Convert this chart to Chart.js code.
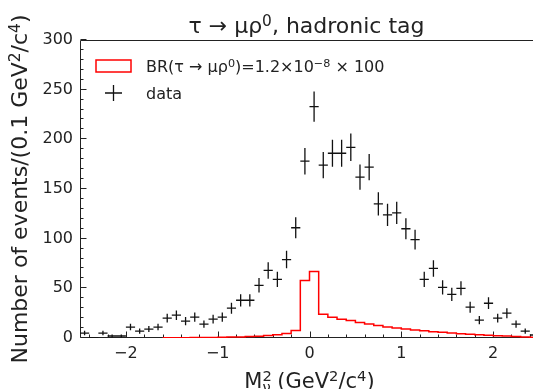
<!DOCTYPE html>
<html>
<head>
<meta charset="utf-8">
<script src="https://cdn.jsdelivr.net/npm/chart.js@4/dist/chart.umd.min.js"></script>
<style>
  html, body { margin: 0; padding: 0; background: #fff; overflow: hidden; }
  #wrap { width: 540px; height: 389px; }
</style>
</head>
<body>
<div id="wrap"><canvas id="myChart" width="540" height="389"></canvas></div>
<script>
// bin centres of the 0.1 GeV^2/c^4 bins
const binCenters = [
  -2.45, -2.35, -2.25, -2.15, -2.05, -1.95, -1.85, -1.75, -1.65, -1.55,
  -1.45, -1.35, -1.25, -1.15, -1.05, -0.95, -0.85, -0.75, -0.65, -0.55,
  -0.45, -0.35, -0.25, -0.15, -0.05, 0.05, 0.15, 0.25, 0.35, 0.45,
  0.55, 0.65, 0.75, 0.85, 0.95, 1.05, 1.15, 1.25, 1.35, 1.45,
  1.55, 1.65, 1.75, 1.85, 1.95, 2.05, 2.15, 2.25, 2.35, 2.45
]
const binWidth = 0.1

// observed events per bin
const dataCounts = [
  5, 0, 5, 2, 2, 11, 7, 9, 11, 20,
  23, 17, 21, 14, 19, 21, 30, 38, 38, 53,
  68, 59, 79, 111, 178, 233, 174, 186, 186, 192,
  162, 172, 135, 124, 126, 110, 99, 59, 70, 51,
  44, 50, 31, 18, 35, 20, 25, 14, 7, 3
]

// signal MC (BR = 1.2e-8, scaled x100), null = empty bin
const signalCounts = [
  null, null, null, null, null, null, null, null, null, 0.2,
  0.3, 0.35, 0.4, 0.5, 0.6, 0.7, 0.9, 1.1, 1.4, 1.8,
  2.4, 3.2, 4.6, 7.5, 58, 67, 24, 21, 19, 17.5,
  15.5, 14, 12.5, 11, 10, 9, 8, 7.2, 6.4, 5.7,
  5, 4.4, 3.8, 3.3, 2.8, 2.3, 1.9, 1.5, 1.1, 0.8
]

const xTicks = [-2, -1, 0, 1, 2]
const yTicks = [0, 50, 100, 150, 200, 250, 300]

const textColor = '#222'
const fontFam = '"DejaVu Sans", sans-serif'

// draw a list of text runs ({t, sup, sub}) from x,y ; returns width
let drawRuns = (ctx, runs, size, x, y, measureOnly) => {
  let cx = x
  runs.forEach(r => {
    let s = r.sup || r.sub ? size * 0.7 : size
    ctx.font = s + 'px ' + fontFam
    let dy = r.sup ? -size * 0.32 : (r.sub ? size * 0.2 : 0)
    if (!measureOnly) ctx.fillText(r.t, cx, y + dy)
    if (!r.noAdvance) cx += ctx.measureText(r.t).width
  })
  return cx - x
}

const decor = {
  id: 'decor',
  beforeDatasetsDraw(chart) {
    const { ctx, chartArea: a, scales: { x, y } } = chart
    ctx.save()
    ctx.strokeStyle = textColor
    ctx.lineWidth = 1
    let L = Math.round(a.left) + 0.5, B = Math.round(a.bottom) - 0.5
    ctx.beginPath()
    ctx.moveTo(L, a.top + 0.5); ctx.lineTo(a.right - 0.5, a.top + 0.5)
    ctx.lineTo(a.right - 0.5, B); ctx.lineTo(L, B); ctx.closePath()
    // inward ticks
    for (let v = 0; v <= 300; v += 10) {
      let py = Math.round(y.getPixelForValue(v)) - 0.5
      let len = v % 50 === 0 ? 6 : 3
      ctx.moveTo(L, py); ctx.lineTo(L + len, py)
    }
    for (let k = -12; k <= 12; k++) {
      let v = k * 0.2
      let px = Math.round(x.getPixelForValue(v)) + 0.5
      let len = k % 5 === 0 ? 6 : 3
      ctx.moveTo(px, B); ctx.lineTo(px, B - len)
    }
    ctx.stroke()
    ctx.restore()
  },
  afterDatasetsDraw(chart) {
    const { ctx, chartArea: a, scales: { x, y } } = chart
    ctx.save()
    ctx.beginPath()
    ctx.rect(a.left, a.top, a.right - a.left, a.bottom - a.top)
    ctx.clip()
    ctx.strokeStyle = '#111'
    ctx.lineWidth = 1.3
    ctx.beginPath()
    binCenters.forEach((c, i) => {
      let n = dataCounts[i]
      let err = Math.sqrt(n)
      let px = x.getPixelForValue(c)
      let py = y.getPixelForValue(n)
      ctx.moveTo(x.getPixelForValue(c - binWidth / 2), py)
      ctx.lineTo(x.getPixelForValue(c + binWidth / 2), py)
      ctx.moveTo(px, y.getPixelForValue(n - err))
      ctx.lineTo(px, y.getPixelForValue(n + err))
    })
    ctx.stroke()
    ctx.restore()

    // legend
    ctx.save()
    ctx.fillStyle = '#fff'
    ctx.strokeStyle = '#ff0000'
    ctx.lineWidth = 1.5
    ctx.fillRect(96, 60, 35, 12)
    ctx.strokeRect(96, 60, 35, 12)
    ctx.strokeStyle = '#111'
    ctx.lineWidth = 1.3
    ctx.beginPath()
    ctx.moveTo(105, 93); ctx.lineTo(122, 93)
    ctx.moveTo(113.5, 85); ctx.lineTo(113.5, 101)
    ctx.stroke()
    ctx.fillStyle = textColor
    ctx.textBaseline = 'alphabetic'
    drawRuns(ctx, [{ t: 'BR(τ → μρ' }, { t: '0', sup: true }, { t: ')=1.2×10' }, { t: '−8', sup: true }, { t: ' × 100' }], 16, 146, 72)
    drawRuns(ctx, [{ t: 'data' }], 16, 146, 99)

    // title
    let titleRuns = [{ t: 'τ → μρ' }, { t: '0', sup: true }, { t: ', hadronic tag' }]
    let cx = (a.left + a.right) / 2
    let w = drawRuns(ctx, titleRuns, 22, 0, 0, true)
    drawRuns(ctx, titleRuns, 22, cx - w / 2 - 3, 33)

    // x title
    let xRuns = [{ t: 'M' }, { t: '2', sup: true, noAdvance: true }, { t: 'ν', sub: true }, { t: ' (GeV' }, { t: '2', sup: true }, { t: '/c' }, { t: '4', sup: true }, { t: ')' }]
    w = drawRuns(ctx, xRuns, 21, 0, 0, true)
    drawRuns(ctx, xRuns, 21, cx - w / 2, 388)

    // y title
    let yRuns = [{ t: 'Number of events/(0.1 GeV' }, { t: '2', sup: true }, { t: '/c' }, { t: '4', sup: true }, { t: ')' }]
    w = drawRuns(ctx, yRuns, 22, 0, 0, true)
    ctx.translate(27, (a.top + a.bottom) / 2)
    ctx.rotate(-Math.PI / 2)
    drawRuns(ctx, yRuns, 22, -w / 2, 0)
    ctx.restore()
  }
}

// histogram outline: one point on each bin's lower edge, plus the last upper edge
let histPoints = binCenters.map((c, i) => ({ x: c - binWidth / 2, y: signalCounts[i] }))
histPoints.push({ x: binCenters[binCenters.length - 1] + binWidth / 2, y: signalCounts[signalCounts.length - 1] })

const ctx = document.getElementById('myChart')
const myChart = new Chart(ctx, {
  type: 'scatter',
  data: {
    datasets: [{
      type: 'line',
      label: 'signal',
      data: histPoints,
      showLine: true,
      stepped: 'before',
      borderColor: '#ff0000',
      borderWidth: 1.5,
      pointRadius: 0,
      fill: false,
      spanGaps: false
    }, {
      label: 'data',
      data: binCenters.map((c, i) => ({ x: c, y: dataCounts[i] })),
      pointRadius: 0,
      showLine: false
    }]
  },
  options: {
    responsive: false,
    animation: false,
    layout: { padding: { top: 40, right: 1, left: 0, bottom: 0 } },
    plugins: { legend: { display: false }, tooltip: { enabled: false }, title: { display: false } },
    scales: {
      x: {
        type: 'linear',
        min: -2.5,
        max: 2.5,
        afterBuildTicks: s => { s.ticks = xTicks.map(v => ({ value: v })) },
        afterFit: s => { s.height = 51 },
        grid: { display: false, drawTicks: false },
        border: { display: false },
        ticks: {
          padding: 6,
          maxRotation: 0,
          autoSkip: false,
          color: textColor,
          font: { family: fontFam, size: 16 },
          callback: v => v < 0 ? '−' + Math.abs(v) : '' + v
        }
      },
      y: {
        type: 'linear',
        min: 0,
        max: 300,
        afterBuildTicks: s => { s.ticks = yTicks.map(v => ({ value: v })) },
        afterFit: s => { s.width = 80 },
        grid: { display: false, drawTicks: false },
        border: { display: false },
        ticks: {
          padding: 7,
          color: textColor,
          font: { family: fontFam, size: 16 }
        }
      }
    }
  },
  plugins: [decor]
})
</script>
</body>
</html>
